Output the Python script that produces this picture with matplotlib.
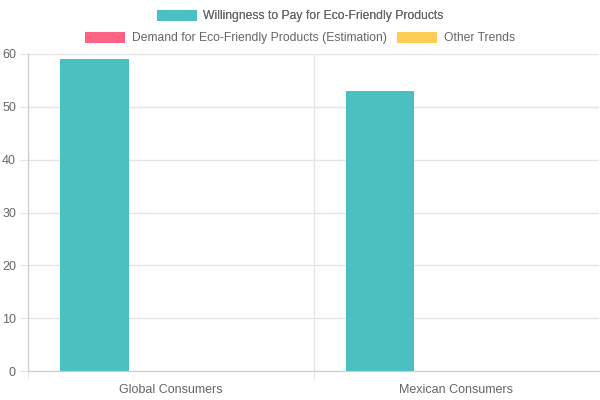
import matplotlib.pyplot as plt
import numpy as np
from matplotlib.patches import Patch

plt.rcParams['font.family'] = ['Liberation Sans', 'DejaVu Sans']

categories = ['Global Consumers', 'Mexican Consumers']
willingness = [59, 53]
demand = [0, 0]
other = [0, 0]
series_names = ['Willingness to Pay for Eco-Friendly Products',
                'Demand for Eco-Friendly Products (Estimation)',
                'Other Trends']
colors = ['#4BC0C0', '#FF6384', '#FFCD56']

fig = plt.figure(figsize=(6, 4), dpi=100)
ax = fig.add_axes([28/600, 1-371/400, 571/600, (371-54)/400])

x = np.arange(len(categories))
slot = 0.8/3
w = slot*0.9
for i, vals in enumerate([willingness, demand, other]):
    ax.bar(x + (i-1)*slot, vals, w, color=colors[i], zorder=2)

px = 0.72  # points per pixel
grid_c = '#e5e5e5'
ax.set_xlim(-0.5, 1.5)
ax.set_ylim(0, 60)
ax.set_yticks(range(0, 61, 10))
ax.set_xticks(x)
ax.set_xticklabels(categories)
ax.set_xticks([-0.5, 0.5], minor=True)
ax.grid(axis='y', color=grid_c, lw=1, zorder=0)
ax.grid(axis='x', which='minor', color=grid_c, lw=1, zorder=0)
ax.tick_params(axis='y', length=8*px, color=grid_c, labelcolor='#666666', labelsize=9, pad=4*px)
ax.tick_params(axis='x', which='major', length=0, labelcolor='#666666', labelsize=9, pad=13*px)
ax.tick_params(axis='x', which='minor', length=8*px, color=grid_c)
for s in ['top', 'right']:
    ax.spines[s].set_visible(False)
for s in ['left', 'bottom']:
    ax.spines[s].set_color('#cccccc')

h = [Patch(facecolor=c) for c in colors]
fs = 8.7
kw = dict(frameon=False, fontsize=fs, handlelength=40*px/fs, handleheight=13*px/fs,
          handletextpad=6.5*px/fs, columnspacing=11*px/fs, labelcolor='#666666', borderpad=0)
leg1 = fig.legend(h[:1], series_names[:1], loc='center', bbox_to_anchor=(0.5, 1-16/400),
                  ncol=1, **kw)
leg2 = fig.legend(h[1:], series_names[1:], loc='center', bbox_to_anchor=(0.5, 1-38/400),
                  ncol=2, **kw)
fig.add_artist(leg1)

fig.savefig('out.png', dpi=100)
